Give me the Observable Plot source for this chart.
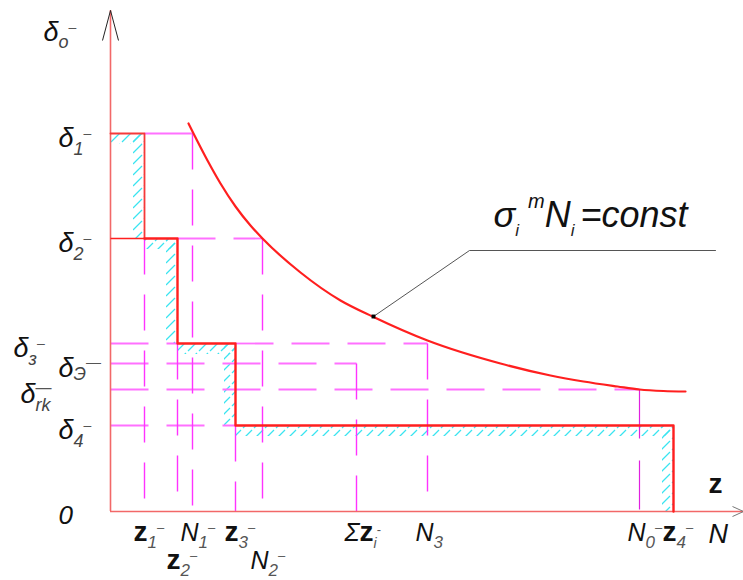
<!DOCTYPE html>
<html><head><meta charset="utf-8">
<script src="https://cdn.jsdelivr.net/npm/d3@7"></script>
<script src="https://cdn.jsdelivr.net/npm/@observablehq/plot@0.6"></script>
<style>
html,body{margin:0;padding:0;background:#fff;}
#chart svg{display:block;}
</style></head><body>
<svg width="0" height="0" style="position:absolute">
<defs><pattern id="hatch" patternUnits="userSpaceOnUse" width="11" height="11">
<line x1="1" y1="10" x2="10" y2="1" stroke="#3ae4f0" stroke-width="1.2"/>
</pattern></defs></svg>
<div id="chart"></div>
<script>
// ---- data ----
const levelSubs   = ["1", "2", "з", "Э", "rk", "4"];          // δ subscripts
const levelValues = [378, 273, 168, 148, 122, 86];
const xTickMain   = ["z", "z", "N", "z", "N", "Σz", "N", "N", "z"];
const xTickSub    = ["1", "2", "1", "3", "2", "i", "3", "0", "4"];
const xTickValues = [34, 67, 82, 125, 152, 246, 317, 529, 563];
const xTickRow    = [1, 2, 1, 1, 2, 1, 1, 1, 1];
const xTickDash   = [true, true, true, true, true, true, false, true, true];
const curveN      = [78, 83, 97, 110, 125, 140, 152, 190, 230, 262, 317, 390, 440, 473, 507, 529, 553, 575];
const curveSigma  = [388, 378, 351, 328, 305, 286, 273, 239, 211, 195, 171, 148, 136, 130, 125, 122, 120.5, 120];
const leaderX     = [263, 359, 605];
const leaderY     = [195, 261, 261];

// ---- derived tables ----
const L = Object.fromEntries(levelSubs.map((s, i) => [s, levelValues[i]]));
const X = Object.fromEntries(xTickMain.map((m, i) => [m + xTickSub[i], xTickValues[i]]));
const stepX = [X.z1, X.z2, X.z3, X.z4];
const stepY = [L["1"], L["2"], L["з"], L["4"]];
const stair = [{x: 0, y: stepY[0]}];
stepX.forEach((x, i) => { stair.push({x, y: stepY[i]}); stair.push({x, y: i + 1 < stepY.length ? stepY[i + 1] : 0}); });
const H = 11;
const hatch = [];
stepX.forEach((x, i) => {
  const prev = i ? stepX[i - 1] : 0;
  const below = i + 1 < stepY.length ? stepY[i + 1] : 0;
  hatch.push({x1: prev, x2: x, y1: stepY[i] - H, y2: stepY[i]});
  hatch.push({x1: x - H, x2: x, y1: below, y2: stepY[i]});
});
const guidesH = [
  {x1: X.z2, x2: X.N2, y: L["2"]},
  {x1: 0, x2: X.z2, y: L["з"]},
  {x1: X.z3, x2: X.N3, y: L["з"]},
  {x1: 0, x2: X["Σzi"], y: L["Э"]},
  {x1: 0, x2: X.N0, y: L.rk},
  {x1: 0, x2: X.z3, y: L["4"]}
];
const guidesV = [
  {x: X.z1, y: L["2"]}, {x: X.z2, y: L["з"]}, {x: X.N1, y: L["1"]}, {x: X.z3, y: L["4"]},
  {x: X.N2, y: L["2"]}, {x: X["Σzi"], y: L["Э"]}, {x: X.N3, y: L["з"]}
];
const curve = curveN.map((n, i) => ({n, s: curveSigma[i]}));
const leader = leaderX.map((x, i) => ({x, y: leaderY[i]}));

const NARROW = "'Liberation Sans Narrow','Arial Narrow','Liberation Sans',Arial,sans-serif";
const SANS = "'Liberation Sans',Arial,sans-serif";
const RED = "#ff1f1f", MAG = "#ff33ff", MAGL = "#ff70ff";

const chevUp = {draw(c) { c.moveTo(-8, 30); c.lineTo(0, 0); c.lineTo(8, 30); }};
const chevRight = {draw(c) { c.moveTo(-11, -5); c.lineTo(0, 0); c.lineTo(-11, 5); }};

// rich text labels: each gets a unique key text, rebuilt into tspans after render
const labels = [];
function lab(data, opts, parts) {
  const key = "§" + labels.length + "§";
  labels.push({key, parts});
  return Plot.text(data, {text: () => key, lineAnchor: "bottom",
    textAnchor: "start", fontFamily: NARROW, fontStyle: "italic", fill: "#111", ...opts});
}
const dash = (dy = -8, t = "–", extra = {}) => ({t, size: 14, dy, fill: "#555", style: "normal", ...extra});
const Z = 28, NS = 25;

const marks = [];
marks.push(Plot.rect(hatch, {x1: "x1", x2: "x2", y1: "y1", y2: "y2", fill: "url(#hatch)"}));
marks.push(Plot.link(guidesH, {x1: "x1", x2: "x2", y1: "y", y2: "y", stroke: MAGL, strokeWidth: 1.8, strokeDasharray: "38,18"}));
marks.push(Plot.link(guidesV, {x1: "x", x2: "x", y1: "y", y2: () => 0, stroke: MAG, strokeWidth: 1.4, strokeDasharray: "36,20"}));
marks.push(Plot.link([{x: X.N0, y: L.rk}], {x1: "x", x2: "x", y1: "y", y2: () => 0, stroke: "#e020e0", strokeWidth: 1.2, strokeDasharray: "49,22"}));
marks.push(Plot.link([{x1: X.z1, x2: X.N1, y: L["1"]}], {x1: "x1", x2: "x2", y1: "y", y2: "y", stroke: MAGL, strokeWidth: 2}));
marks.push(Plot.ruleX([0], {y1: 0, y2: 501, stroke: "#f26868", strokeWidth: 1.6}));
marks.push(Plot.ruleY([0], {x1: 0, x2: 633, stroke: "#f26868", strokeWidth: 1.6}));
marks.push(Plot.dot([{x: 0, y: 501}], {x: "x", y: "y", symbol: chevUp, fill: "none", stroke: "#222", strokeWidth: 1}));
marks.push(Plot.dot([{x: 633, y: 0}], {x: "x", y: "y", symbol: chevRight, fill: "none", stroke: "#777", strokeWidth: 1}));
marks.push(Plot.link([{x1: 0, x2: X.z1, y: L["2"]}], {x1: "x1", x2: "x2", y1: "y", y2: "y", stroke: RED, strokeWidth: 1.6}));
marks.push(Plot.line(stair.slice(0, 3), {x: "x", y: "y", stroke: "#f53a3a", strokeWidth: 1.8}));
marks.push(Plot.line(stair.slice(2), {x: "x", y: "y", stroke: RED, strokeWidth: 2.4}));
marks.push(Plot.line(curve, {x: "n", y: "s", stroke: RED, strokeWidth: 2.2, curve: "monotone-x"}));
marks.push(Plot.line(leader, {x: "x", y: "y", stroke: "#555", strokeWidth: 1}));
marks.push(Plot.dot(leader.slice(0, 1), {x: "x", y: "y", symbol: "square", r: 2.2, fill: "#000"}));

// y labels
const yDx = {"з": -97, "rk": -90};
levelSubs.forEach((s, i) => {
  const dx = yDx[s] ?? -52;
  let parts;
  if (s === "rk") parts = [{t: "δ", size: 27}, {t: "rk", size: 18, dy: 8, fill: "#444"}, dash(-10, "—", {dx: -15, size: 16})];
  else if (s === "Э") parts = [{t: "δ", size: 27}, {t: "Э", size: 18, dy: 3, fill: "#444"}, dash(-10, "—", {size: 15})];
  else parts = [{t: "δ", size: 27}, {t: s, size: 18, dy: 8, fill: "#444"}, dash(-9)];
  marks.push(lab([{x: 0, y: levelValues[i]}], {x: "x", y: "y", dx, dy: 13}, parts));
});
marks.push(lab([0], {frameAnchor: "top-left", dx: -67, dy: 30}, [{t: "δ", size: 27}, {t: "o", size: 18, dy: 7, fill: "#444"}, dash(-9)]));
marks.push(lab([{x: 0, y: 0}], {x: "x", y: "y", dx: -52, dy: 12}, [{t: "0", size: 26}]));
xTickValues.forEach((v, i) => {
  const m = xTickMain[i];
  const parts = [];
  if (m === "Σz") { parts.push({t: "Σ", size: 25}); parts.push({t: "z", size: Z, weight: "bold", style: "normal"}); }
  else if (m === "z") parts.push({t: "z", size: Z, weight: "bold", style: "normal"});
  else parts.push({t: "N", size: NS});
  parts.push({t: xTickSub[i], size: m === "Σz" ? 14 : 17, dy: 7, fill: "#555"});
  if (xTickDash[i]) parts.push(dash(m === "Σz" ? -7 : -9, m === "Σz" ? "-" : "–", {size: 13}));
  marks.push(lab([{x: v, y: 0}], {x: "x", y: "y", dx: m === "z" ? -11 : -12, dy: xTickRow[i] === 1 ? 29 : 57}, parts));
});
marks.push(lab([0], {frameAnchor: "bottom-right", dx: -35, dy: -19}, [{t: "z", size: Z, weight: "bold", style: "normal"}]));
marks.push(lab([0], {frameAnchor: "bottom-right", dx: -35, dy: 31}, [{t: "N", size: 27}]));
marks.push(lab([leader[1]], {x: "x", y: "y", dx: 24, dy: -24, fontFamily: SANS}, [
  {t: "σ", size: 36}, {t: "i", size: 17, dy: 9, fill: "#222"},
  {t: "m", size: 20, dy: -19, dx: 9}, {t: "N", size: 36}, {t: "i", size: 17, dy: 9, fill: "#222"},
  {t: "=const", size: 36, dx: 6}
]));

const svg = Plot.plot({
  width: 743, height: 580,
  marginLeft: 110, marginRight: 0, marginTop: 10, marginBottom: 69,
  x: {domain: [0, 633], axis: null},
  y: {domain: [0, 501], axis: null},
  style: {background: "#fff", overflow: "visible"},
  marks
});

const byKey = new Map(labels.map(l => [l.key, l.parts]));
d3.select(svg).selectAll("text").each(function() {
  const parts = byKey.get(this.textContent.trim());
  if (!parts) return;
  const t = d3.select(this); t.text(null);
  let shift = 0;
  for (const p of parts) {
    const ts = t.append("tspan").text(p.t);
    const target = p.dy || 0;
    const dy = target - shift; shift = target;
    if (dy) ts.attr("dy", dy);
    if (p.dx) ts.attr("dx", p.dx);
    if (p.size) ts.attr("font-size", p.size);
    if (p.weight) ts.attr("font-weight", p.weight);
    if (p.style) ts.attr("font-style", p.style);
    if (p.fill) ts.attr("fill", p.fill);
  }
});
document.getElementById("chart").appendChild(svg);
</script></body></html>
